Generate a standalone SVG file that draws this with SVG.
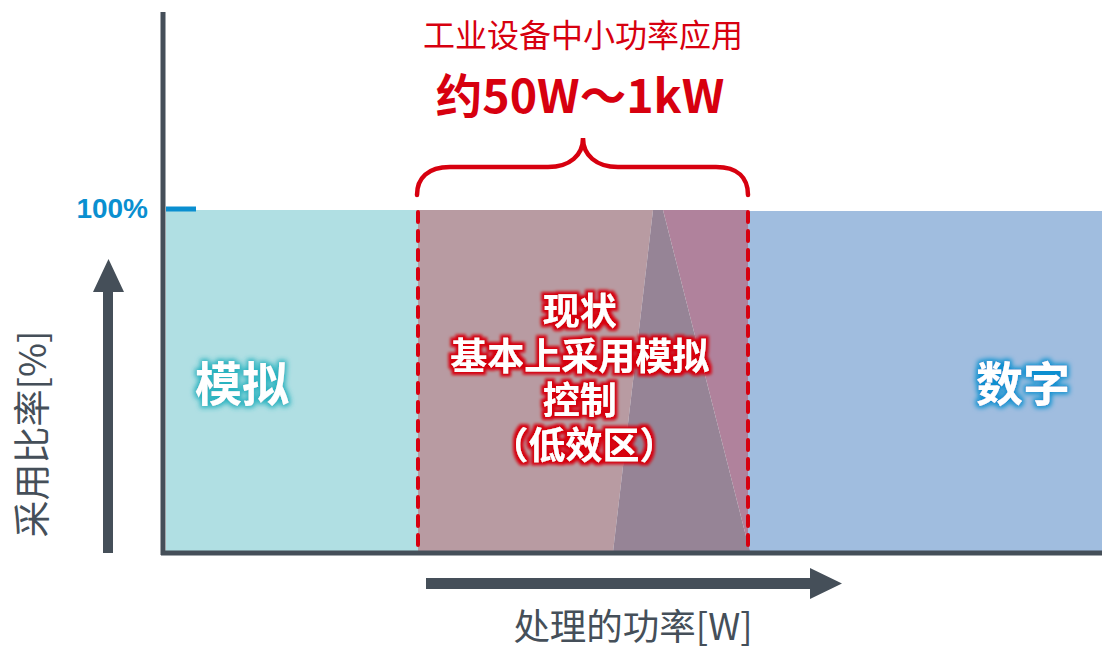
<svg xmlns="http://www.w3.org/2000/svg" width="1102" height="652" viewBox="0 0 1102 652">
<defs>
<style>
.cjk{font-family:"Noto Sans CJK SC","Noto Sans",sans-serif}
.big{font-weight:bold;fill:#ffffff;text-anchor:middle}
.axis{stroke:#454f59;stroke-width:5;fill:none}
.arrow{fill:#454f59}
.red{fill:#d7000f}
.dash{stroke:#d7000f;stroke-width:4;stroke-dasharray:10 9;stroke-linecap:round;fill:none}
</style>
<filter id="glowTeal" x="-20%" y="-40%" width="140%" height="180%">
<feMorphology in="SourceAlpha" operator="dilate" radius="2" result="d"/>
<feGaussianBlur in="d" stdDeviation="2.5" result="b"/>
<feFlood flood-color="#2ab3c0"/>
<feComposite in2="b" operator="in" result="g"/>
<feMerge><feMergeNode in="g"/><feMergeNode in="SourceGraphic"/></feMerge>
</filter>
<filter id="glowBlue" x="-20%" y="-40%" width="140%" height="180%">
<feMorphology in="SourceAlpha" operator="dilate" radius="2" result="d"/>
<feGaussianBlur in="d" stdDeviation="2.5" result="b"/>
<feFlood flood-color="#0a8fd0"/>
<feComposite in2="b" operator="in" result="g"/>
<feMerge><feMergeNode in="g"/><feMergeNode in="SourceGraphic"/></feMerge>
</filter>
<filter id="glowRed" x="-20%" y="-40%" width="140%" height="180%">
<feMorphology in="SourceAlpha" operator="dilate" radius="2.5" result="d"/>
<feGaussianBlur in="d" stdDeviation="1.5" result="b"/>
<feFlood flood-color="#d7000f"/>
<feComposite in2="b" operator="in" result="g"/>
<feMerge><feMergeNode in="g"/><feMergeNode in="SourceGraphic"/></feMerge>
</filter>
</defs>

<g id="areas">
<polygon points="166,210 418,210 418,552 166,552" fill="#b0dfe3"/>
<polygon points="748,211 1102,211 1102,552 748,552" fill="#a0bddf"/>
<polygon points="418,210 653,210 613,552 418,552" fill="#b89ba2"/>
<polygon points="663,210 748,210 748,552 750,552" fill="#b0829c"/>
<polygon points="653,210 663,210 750,552 613,552" fill="#968496"/>
</g>

<g id="axes">
<line class="axis" x1="163" y1="12" x2="163" y2="555"/>
<line class="axis" x1="161" y1="553" x2="1102" y2="553"/>
<line x1="166" y1="209" x2="196" y2="209" stroke="#0a8fd0" stroke-width="5"/>
</g>

<g id="connectors">
<polygon class="arrow" points="103,553 103,292 93,292 108.5,259 124,292 113,292 113,553"/>
<polygon class="arrow" points="426,578 810,578 810,568 842,583.5 810,599 810,589 426,589"/>
<line class="dash" x1="418" y1="212" x2="418" y2="550"/>
<line class="dash" x1="748" y1="212" x2="748" y2="550"/>
<path d="M417,195 C417,178 428,167 450,167 L548,167 C570,167 583,155 583,138 C583,155 596,167 618,167 L716,167 C738,167 748,178 748,195" fill="none" stroke="#d7000f" stroke-width="4.5" stroke-linecap="round"/>
</g>

<g id="labels">
<text class="cjk red" x="583" y="47" font-size="32" text-anchor="middle">工业设备中小功率应用</text>
<text class="cjk red" x="580" y="113" font-size="46.5" font-weight="bold" text-anchor="middle">约50W～1kW</text>
<text x="148" y="218" font-family="Liberation Sans,Arial,sans-serif" font-size="28" font-weight="bold" fill="#0a8fd0" text-anchor="end">100%</text>
<text class="cjk" x="633" y="640" font-size="36.5" fill="#454f59" text-anchor="middle">处理的功率[W]</text>
<text class="cjk" transform="translate(46,434) rotate(-90)" font-size="37" fill="#454f59" text-anchor="middle">采用比率[%]</text>
</g>

<g id="analog">
<text class="cjk big" x="242" y="401" font-size="47" filter="url(#glowTeal)">模拟</text>
</g>
<g id="digital">
<text class="cjk big" x="1023" y="401" font-size="47" filter="url(#glowBlue)">数字</text>
</g>
<g id="status">
<text class="cjk big" font-size="37" filter="url(#glowRed)">
<tspan x="584" y="325">现状</tspan>
<tspan x="584" y="370">基本上采用模拟</tspan>
<tspan x="584" y="414">控制</tspan>
<tspan x="584" y="459">（低效区）</tspan>
</text>
</g>
</svg>
